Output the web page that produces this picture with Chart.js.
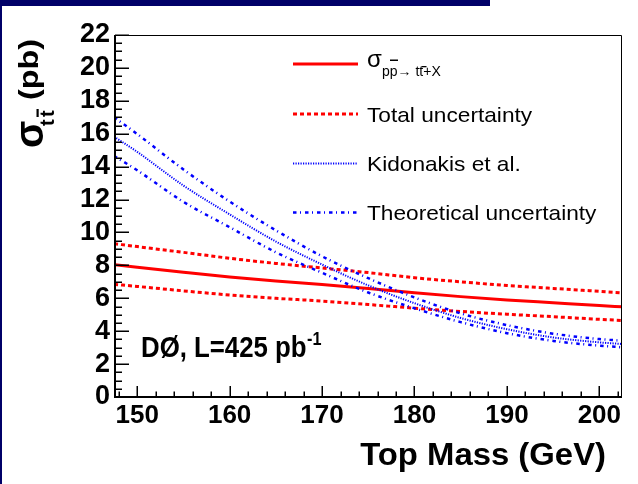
<!DOCTYPE html>
<html>
<head>
<meta charset="utf-8">
<script src="https://cdn.jsdelivr.net/npm/chart.js@4/dist/chart.umd.min.js"></script>
<style>
  html, body { margin: 0; padding: 0; background: #fff; }
  #c { display: block; }
</style>
</head>
<body>
<canvas id="c" width="638" height="484"></canvas>
<script>
// Top-quark mass points (GeV)
const masses = [147.5, 150, 155, 160, 165, 170, 175, 180, 185, 190, 195, 200, 202.5];
// Measured cross section and its total-uncertainty band (pb)
const xsec     = [8.05, 7.89, 7.58, 7.29, 7.05, 6.84, 6.60, 6.33, 6.10, 5.90, 5.73, 5.56, 5.48];
const xsecUp   = [9.32, 9.14, 8.79, 8.43, 8.12, 7.84, 7.56, 7.25, 7.00, 6.78, 6.60, 6.42, 6.33];
const xsecDown = [6.85, 6.72, 6.45, 6.20, 6.00, 5.83, 5.62, 5.40, 5.20, 5.03, 4.88, 4.72, 4.65];
// Theory prediction (Kidonakis et al.) and its theoretical uncertainty (pb)
const theory     = [15.82, 14.90, 12.85, 11.10, 9.45, 8.05, 6.78, 5.70, 4.80, 4.12, 3.62, 3.32, 3.22];
const theoryUp   = [17.00, 15.98, 13.83, 11.88, 10.13, 8.55, 7.22, 6.05, 5.08, 4.37, 3.85, 3.52, 3.42];
const theoryDown = [14.65, 13.78, 11.86, 10.32, 8.80, 7.55, 6.35, 5.39, 4.55, 3.88, 3.41, 3.12, 3.02];
// Axis tick labels
const xTicks = [150, 160, 170, 180, 190, 200];
const yTicks = [0, 2, 4, 6, 8, 10, 12, 14, 16, 18, 20, 22];
// Legend entries
const legendLabels = ['Total uncertainty', 'Kidonakis et al.', 'Theoretical uncertainty'];

const RED = '#ff0000';
const BLUE = '#0000ff';
const FONT = '"Liberation Sans", Arial, Helvetica, sans-serif';

const toPoints = (ys) => masses.map((m, i) => ({ x: m, y: ys[i] }));

const styles = {
  solid:   { color: RED,  width: 3,   dash: [] },
  dashed:  { color: RED,  width: 3,   dash: [4, 3] },
  dotted:  { color: BLUE, width: 2,   dash: [1.2, 1.3] },
  dashdot: { color: BLUE, width: 2.5, dash: [3.5, 3.5, 1, 4] }
};

function ds(ys, st) {
  return {
    data: toPoints(ys),
    borderColor: st.color,
    borderWidth: st.width,
    borderDash: st.dash,
    borderCapStyle: 'butt',
    pointRadius: 0,
    fill: false,
    cubicInterpolationMode: 'monotone'
  };
}

function stretchText(ctx, str, x, y, sx, align) {
  ctx.save();
  ctx.translate(x, y);
  ctx.scale(sx, 1);
  ctx.textAlign = align || 'left';
  ctx.fillText(str, 0, 0);
  ctx.restore();
}

const framePlugin = {
  id: 'frame',
  beforeDraw(chart) {
    const ctx = chart.ctx;
    ctx.save();
    ctx.fillStyle = '#ffffff';
    ctx.fillRect(0, 0, chart.width, chart.height);
    // banner strip and left edge
    ctx.fillStyle = '#000068';
    ctx.fillRect(0, 0, 490, 6);
    ctx.fillRect(0, 0, 2, chart.height);
    ctx.restore();
  },
  afterDatasetsDraw(chart) {
    const ctx = chart.ctx;
    const a = chart.chartArea;
    const xs = chart.scales.x, ys = chart.scales.y;
    ctx.save();
    ctx.strokeStyle = '#000';
    // thin top / right frame
    ctx.lineWidth = 1;
    ctx.beginPath();
    ctx.moveTo(a.left, a.top + 0.5); ctx.lineTo(a.right - 0.5, a.top + 0.5);
    ctx.lineTo(a.right - 0.5, a.bottom);
    ctx.stroke();
    // axes
    ctx.lineWidth = 2;
    ctx.beginPath();
    ctx.moveTo(a.left, a.top); ctx.lineTo(a.left, a.bottom);
    ctx.lineTo(a.right, a.bottom);
    ctx.stroke();
    // y ticks (inside)
    ctx.lineWidth = 1.5;
    ctx.beginPath();
    for (let v = 0; v <= 22.001; v += 0.5) {
      const py = Math.round(ys.getPixelForValue(v)) + 0.25;
      const len = (Math.abs(v % 2) < 1e-6) ? 14 : 7;
      ctx.moveTo(a.left, py); ctx.lineTo(a.left + len, py);
    }
    // x ticks (inside)
    for (let v = 148; v <= 202; v += 2) {
      const px = Math.round(xs.getPixelForValue(v)) + 0.25;
      const len = (v % 10 === 0) ? 11 : 5.5;
      ctx.moveTo(px, a.bottom); ctx.lineTo(px, a.bottom - len);
    }
    ctx.stroke();
    ctx.restore();
  },
  afterDraw(chart) {
    const ctx = chart.ctx;
    ctx.save();
    ctx.fillStyle = '#000';
    ctx.textBaseline = 'alphabetic';

    // x-axis title
    ctx.font = 'bold 31px ' + FONT;
    stretchText(ctx, 'Top Mass (GeV)', 606, 465, 1.06, 'right');

    // y-axis title, rotated
    ctx.save();
    ctx.translate(0, 148);
    ctx.rotate(-Math.PI / 2);
    ctx.font = 'bold 40px ' + FONT;
    ctx.fillText('σ', 0, 43);
    ctx.font = 'bold 20px ' + FONT;
    ctx.fillText('t', 22, 53.5);
    ctx.fillText('t', 31, 53.5);
    ctx.fillRect(31, 36.5, 8, 2.2);
    ctx.font = 'bold 27px ' + FONT;
    stretchText(ctx, '(pb)', 48, 37.5, 1.2, 'left');
    ctx.restore();

    // experiment label
    ctx.font = 'bold 30px ' + FONT;
    stretchText(ctx, 'DØ, L=425 pb', 141, 357, 0.86, 'left');
    ctx.font = 'bold 18px ' + FONT;
    stretchText(ctx, '-1', 307, 345, 0.9, 'left');

    // legend
    const lx0 = 293, lx1 = 358, tx = 367;
    const rows = [64, 114, 163.5, 212.5];
    const keys = [styles.solid, styles.dashed, styles.dotted, styles.dashdot];
    keys.forEach((st, i) => {
      ctx.save();
      ctx.strokeStyle = st.color;
      ctx.lineWidth = st.width;
      ctx.setLineDash(st.dash);
      ctx.beginPath();
      ctx.moveTo(lx0, rows[i]); ctx.lineTo(lx1, rows[i]);
      ctx.stroke();
      ctx.restore();
    });
    ctx.font = '24px ' + FONT;
    ctx.fillText('σ', tx, 67);
    ctx.font = '14px ' + FONT;
    ctx.fillText('pp→ tt+X', 382, 76);
    ctx.fillRect(390, 59.5, 8, 1.5);
    ctx.fillRect(421.5, 66, 5, 1.3);
    ctx.font = '21px ' + FONT;
    legendLabels.forEach((t, i) => stretchText(ctx, t, tx, rows[i + 1] + 7.5, 1.08, 'left'));
    ctx.restore();
  }
};

new Chart(document.getElementById('c'), {
  type: 'line',
  data: {
    datasets: [
      ds(theoryUp, styles.dashdot),
      ds(theoryDown, styles.dashdot),
      ds(theory, styles.dotted),
      ds(xsecUp, styles.dashed),
      ds(xsecDown, styles.dashed),
      ds(xsec, styles.solid)
    ]
  },
  options: {
    responsive: false,
    animation: false,
    devicePixelRatio: 1,
    layout: { padding: { left: 0, right: 16, top: 35, bottom: 0 } },
    plugins: { legend: { display: false }, tooltip: { enabled: false } },
    scales: {
      x: {
        type: 'linear', min: 147.6, max: 202.45,
        grid: { display: false, drawTicks: false },
        border: { display: false },
        ticks: { font: { family: FONT, size: 26, weight: 'bold' }, color: '#000', padding: 3, maxRotation: 0, autoSkip: false },
        afterBuildTicks: (s) => { s.ticks = xTicks.map(v => ({ value: v })); },
        afterFit: (s) => { s.height = 87; }
      },
      y: {
        type: 'linear', min: 0, max: 22,
        grid: { display: false, drawTicks: false },
        border: { display: false },
        ticks: { font: { family: FONT, size: 27, weight: 'bold' }, color: '#000', padding: 5, autoSkip: false },
        afterBuildTicks: (s) => { s.ticks = yTicks.map(v => ({ value: v })); },
        afterFit: (s) => { s.width = 115; }
      }
    }
  },
  plugins: [framePlugin]
});
</script>
</body>
</html>
